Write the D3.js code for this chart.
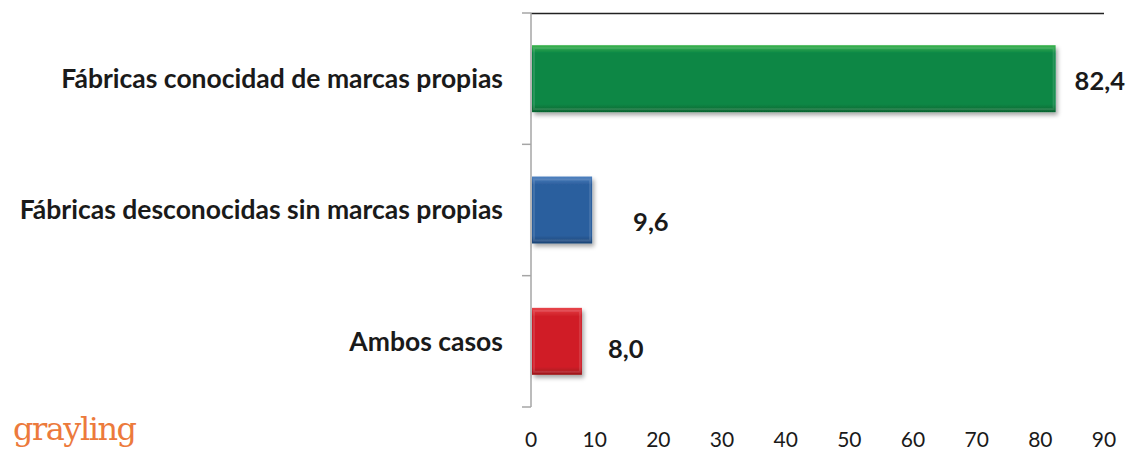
<!DOCTYPE html>
<html>
<head>
<meta charset="utf-8">
<script src="https://cdn.jsdelivr.net/npm/d3@7"></script>
<style>
body { margin: 0; background: #fff; }
</style>
</head>
<body>
<div id="chart"></div>
<script>
var categories = ["Fábricas conocidad de marcas propias", "Fábricas desconocidas sin marcas propias", "Ambos casos"];
var values = [82.4, 9.6, 8.0];
var valueLabels = ["82,4", "9,6", "8,0"];
var xTicks = [0, 10, 20, 30, 40, 50, 60, 70, 80, 90];
var barColors = [
  {top: "#3cb44e", mid: "#0a8745", bot: "#06632f"},
  {top: "#4f82c0", mid: "#2c5f9e", bot: "#1d4475"},
  {top: "#e8434a", mid: "#d01f28", bot: "#9b151b"}
];

var W = 1132, H = 452;
var mLeft = 531, mRight = 1104, mTop = 13, mBottom = 407;

var svg = d3.select("#chart").append("svg")
  .attr("width", W).attr("height", H)
  .style("font-family", "Lato, 'Open Sans', sans-serif");

var defs = svg.append("defs");
barColors.forEach(function(c, i) {
  var g = defs.append("linearGradient").attr("id", "grad" + i)
    .attr("x1", 0).attr("y1", 0).attr("x2", 0).attr("y2", 1);
  g.append("stop").attr("offset", "0%").attr("stop-color", c.top);
  g.append("stop").attr("offset", "12%").attr("stop-color", c.mid);
  g.append("stop").attr("offset", "88%").attr("stop-color", c.mid);
  g.append("stop").attr("offset", "100%").attr("stop-color", c.bot);
});
var f = defs.append("filter").attr("id", "shadow")
  .attr("x", "-10%").attr("y", "-10%").attr("width", "130%").attr("height", "140%");
f.append("feDropShadow").attr("dx", 2).attr("dy", 3).attr("stdDeviation", 2)
  .attr("flood-color", "#000").attr("flood-opacity", 0.35);

var x = d3.scaleLinear().domain([0, 90]).range([mLeft, mRight]);
var y = d3.scaleBand().domain(categories).range([mTop, mBottom]).paddingInner(0.49).paddingOuter(0.245);

// top border line
svg.append("line")
  .attr("x1", mLeft).attr("x2", mRight).attr("y1", mTop + 0.5).attr("y2", mTop + 0.5)
  .attr("stroke", "#222").attr("stroke-width", 1.5);

// category axis with ticks between bands
var bandStep = (mBottom - mTop) / categories.length;
var sepTicks = d3.range(categories.length + 1).map(function(i) { return mTop + i * bandStep; });
svg.append("line")
  .attr("x1", mLeft).attr("x2", mLeft).attr("y1", mTop).attr("y2", mBottom)
  .attr("stroke", "#a6a6a6").attr("stroke-width", 1.5);
svg.selectAll(".sep").data(sepTicks).enter().append("line")
  .attr("x1", mLeft - 9).attr("x2", mLeft).attr("y1", function(d) { return d; }).attr("y2", function(d) { return d; })
  .attr("stroke", "#a6a6a6").attr("stroke-width", 1.5);

// bars
svg.selectAll(".bar").data(values).enter().append("rect")
  .attr("x", x(0) + 1)
  .attr("y", function(d, i) { return y(categories[i]); })
  .attr("width", function(d) { return x(d) - x(0) - 1; })
  .attr("height", y.bandwidth())
  .attr("fill", function(d, i) { return "url(#grad" + i + ")"; })
  .attr("filter", "url(#shadow)");

// bevel highlights on bars
svg.selectAll(".bev").data(values).enter().append("rect")
  .attr("x", x(0) + 3)
  .attr("y", function(d, i) { return y(categories[i]) + 3; })
  .attr("width", function(d) { return x(d) - x(0) - 5; })
  .attr("height", y.bandwidth() - 6)
  .attr("fill", "none")
  .attr("stroke", "#fff").attr("stroke-opacity", 0.12).attr("stroke-width", 2);

// category labels
svg.selectAll(".cat").data(categories).enter().append("text")
  .attr("x", 503)
  .attr("y", function(d) { return y(d) + y.bandwidth() / 2; })
  .attr("dy", "0.35em")
  .attr("text-anchor", "end")
  .attr("font-size", 26.5).attr("font-weight", "bold").attr("fill", "#1a1a1a")
  .text(function(d) { return d; });

// value labels
var labelShift = [[19, 2], [41, 12], [26, 8]];
svg.selectAll(".val").data(values).enter().append("text")
  .attr("x", function(d, i) { return x(d) + labelShift[i][0]; })
  .attr("y", function(d, i) { return y(categories[i]) + y.bandwidth() / 2 + labelShift[i][1]; })
  .attr("dy", "0.35em")
  .attr("font-size", 25.5).attr("font-weight", "bold").attr("fill", "#1a1a1a")
  .text(function(d, i) { return valueLabels[i]; });

// x tick labels
svg.selectAll(".xt").data(xTicks).enter().append("text")
  .attr("x", function(d) { return x(d); })
  .attr("y", 447)
  .attr("text-anchor", "middle")
  .attr("font-size", 21).attr("fill", "#1a1a1a")
  .text(function(d) { return d; });

// logo
svg.append("text")
  .attr("x", 13).attr("y", 440)
  .attr("font-family", "'DejaVu Serif', serif")
  .attr("font-size", 32).attr("fill", "#ec7a3c")
  .attr("letter-spacing", -1.5)
  .text("grayling");
</script>
</body>
</html>
